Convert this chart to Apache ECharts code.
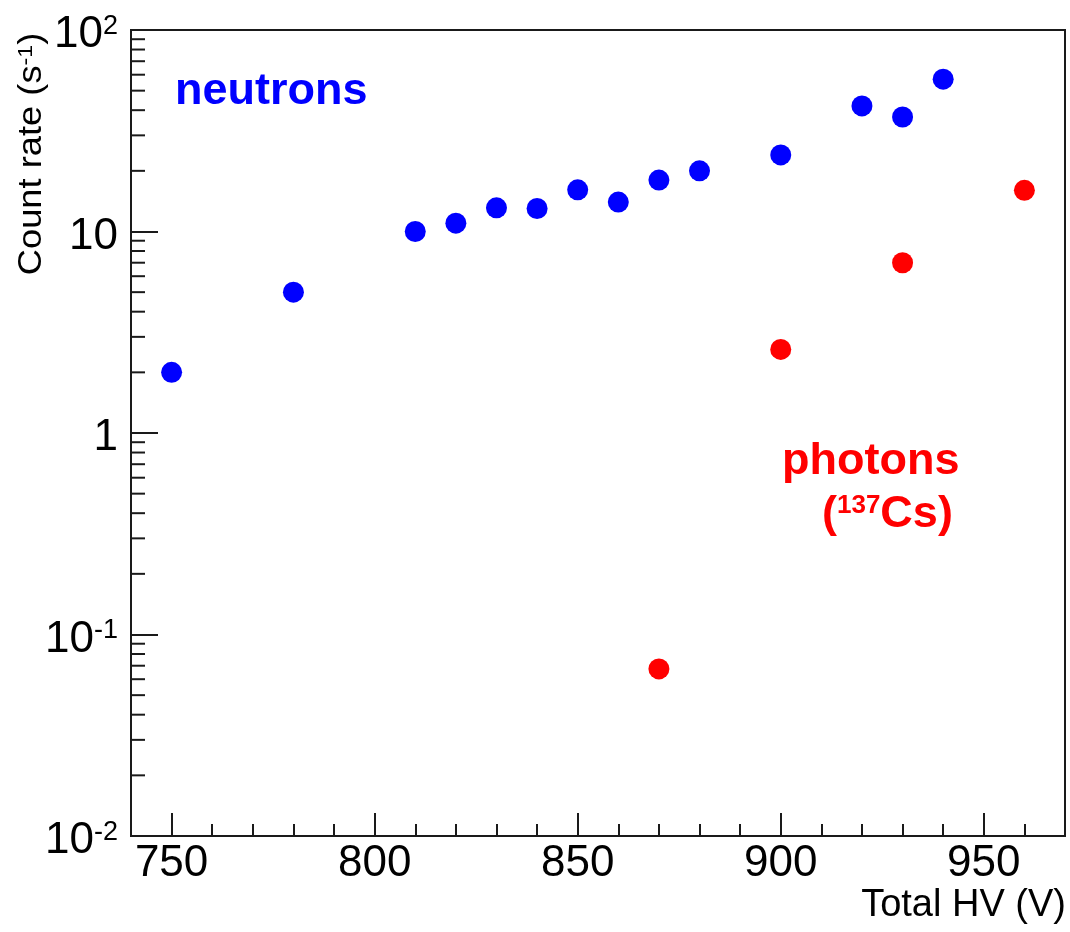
<!DOCTYPE html>
<html>
<head>
<meta charset="utf-8">
<script src="https://cdn.jsdelivr.net/npm/echarts@6/dist/echarts.min.js"></script>
<style>
html,body{margin:0;padding:0;background:#fff;}
#chart{width:1070px;height:932px;}
</style>
</head>
<body>
<div id="chart"></div>
<script>
// ---- data ----
const neutronHV   = [750, 780, 810, 820, 830, 840, 850, 860, 870, 880, 900, 920, 930, 940];
const neutronRate = [2.0, 5.0, 10.0, 11.0, 13.1, 13.0, 16.1, 14.0, 18.0, 20.0, 24.0, 42.0, 37.0, 57.0];
const photonHV    = [870, 900, 930, 960];
const photonRate  = [0.0675, 2.6, 7.0, 16.0];

const yTicks     = [0.01, 0.1, 1, 10, 100];
const yTickBase  = ['10', '10', '1', '10', '10'];
const yTickExp   = ['-2', '-1', '', '', '2'];
const yMinorTicks = [0.02, 0.03, 0.04, 0.05, 0.06, 0.07, 0.08, 0.09,
                     0.2, 0.3, 0.4, 0.5, 0.6, 0.7, 0.8, 0.9,
                     2, 3, 4, 5, 6, 7, 8, 9,
                     20, 30, 40, 50, 60, 70, 80, 90];
const xMin = 740, xMax = 970;
const yMin = 0.01, yMax = 100;

const FONT = '"Liberation Sans", Arial, Helvetica, sans-serif';
const AXIS = '#1a1a1a';

const chart = echarts.init(document.getElementById('chart'), null, {renderer: 'canvas'});

function yLabel(v) {
  let idx = -1;
  for (let i = 0; i < yTicks.length; i++) {
    if (Math.abs(Math.log10(v) - Math.log10(yTicks[i])) < 1e-6) idx = i;
  }
  if (idx < 0) return '';
  return yTickExp[idx] ? '{b|' + yTickBase[idx] + '}{s|' + yTickExp[idx] + '}' : '{b|' + yTickBase[idx] + '}';
}

const option = {
  backgroundColor: '#ffffff',
  animation: false,
  grid: {
    left: 131, top: 30, width: 934, height: 806,
    show: true, borderColor: AXIS, borderWidth: 2, backgroundColor: '#ffffff'
  },
  xAxis: {
    type: 'value', min: xMin, max: xMax, splitNumber: 5,
    axisLine: {show: true, onZero: false, lineStyle: {color: AXIS, width: 2}},
    axisTick: {show: true, inside: true, length: 23, lineStyle: {color: AXIS, width: 2}},
    minorTick: {show: true, splitNumber: 5, length: 12, lineStyle: {color: AXIS, width: 2}},
    splitLine: {show: false},
    axisLabel: {
      show: true, showMinLabel: false, showMaxLabel: false, margin: 6,
      fontFamily: FONT, fontSize: 44, color: '#000'
    }
  },
  yAxis: {
    type: 'log', logBase: 10, min: yMin, max: yMax,
    axisLine: {show: true, lineStyle: {color: AXIS, width: 2}},
    axisTick: {show: true, inside: true, length: 27, lineStyle: {color: AXIS, width: 2}},
    minorTick: {show: false},
    splitLine: {show: false},
    axisLabel: {
      show: true, margin: 13, padding: [10, 0, 0, 0],
      formatter: yLabel,
      rich: {
        b: {fontFamily: FONT, fontSize: 44, color: '#000', lineHeight: 44},
        s: {fontFamily: FONT, fontSize: 27, color: '#000', lineHeight: 20, verticalAlign: 'top'}
      }
    }
  },
  graphic: [
    {
      type: 'text', rotation: Math.PI / 2, x: 32, y: 154, scaleX: 1.1,
      style: {
        text: '{a|Count rate (s}{s|-1}{a|)}',
        align: 'center', verticalAlign: 'middle',
        rich: {
          a: {fontFamily: FONT, fontSize: 33, fill: '#000', lineHeight: 33},
          s: {fontFamily: FONT, fontSize: 21, fill: '#000', lineHeight: 14, verticalAlign: 'top'}
        }
      }
    },
    {
      type: 'text', x: 1066, y: 906,
      style: {text: 'Total HV (V)', font: '38px ' + FONT, fill: '#000', align: 'right', verticalAlign: 'middle'}
    },
    {
      type: 'text', x: 175, y: 92,
      style: {text: 'neutrons', font: 'bold 45px ' + FONT, fill: '#0000ff', align: 'left', verticalAlign: 'middle'}
    },
    {
      type: 'text', x: 782, y: 462,
      style: {text: 'photons', font: 'bold 45px ' + FONT, fill: '#ff0000', align: 'left', verticalAlign: 'middle'}
    },
    {
      type: 'text', x: 822, y: 515,
      style: {
        text: '{a|(}{s|137}{a|Cs)}',
        align: 'left', verticalAlign: 'middle',
        rich: {
          a: {fontFamily: FONT, fontWeight: 'bold', fontSize: 45, fill: '#ff0000', lineHeight: 45},
          s: {fontFamily: FONT, fontWeight: 'bold', fontSize: 26, fill: '#ff0000', lineHeight: 20, verticalAlign: 'top'}
        }
      }
    }
  ],
  series: [
    {
      type: 'custom', name: 'yMinor', silent: true, clip: false, z: 3,
      data: yMinorTicks.map(v => [xMin, v]),
      renderItem: function (params, api) {
        const p = api.coord([api.value(0), api.value(1)]);
        return {type: 'line', shape: {x1: p[0], y1: p[1], x2: p[0] + 14, y2: p[1]},
                style: {stroke: AXIS, lineWidth: 2}};
      }
    },
    {
      type: 'scatter', name: 'neutrons', symbol: 'circle', symbolSize: 21, z: 5,
      itemStyle: {color: '#0000ff', opacity: 1},
      data: neutronHV.map((x, i) => [x, neutronRate[i]])
    },
    {
      type: 'scatter', name: 'photons', symbol: 'circle', symbolSize: 21, z: 5,
      itemStyle: {color: '#ff0000', opacity: 1},
      data: photonHV.map((x, i) => [x, photonRate[i]])
    }
  ]
};
chart.setOption(option);
</script>
</body>
</html>
